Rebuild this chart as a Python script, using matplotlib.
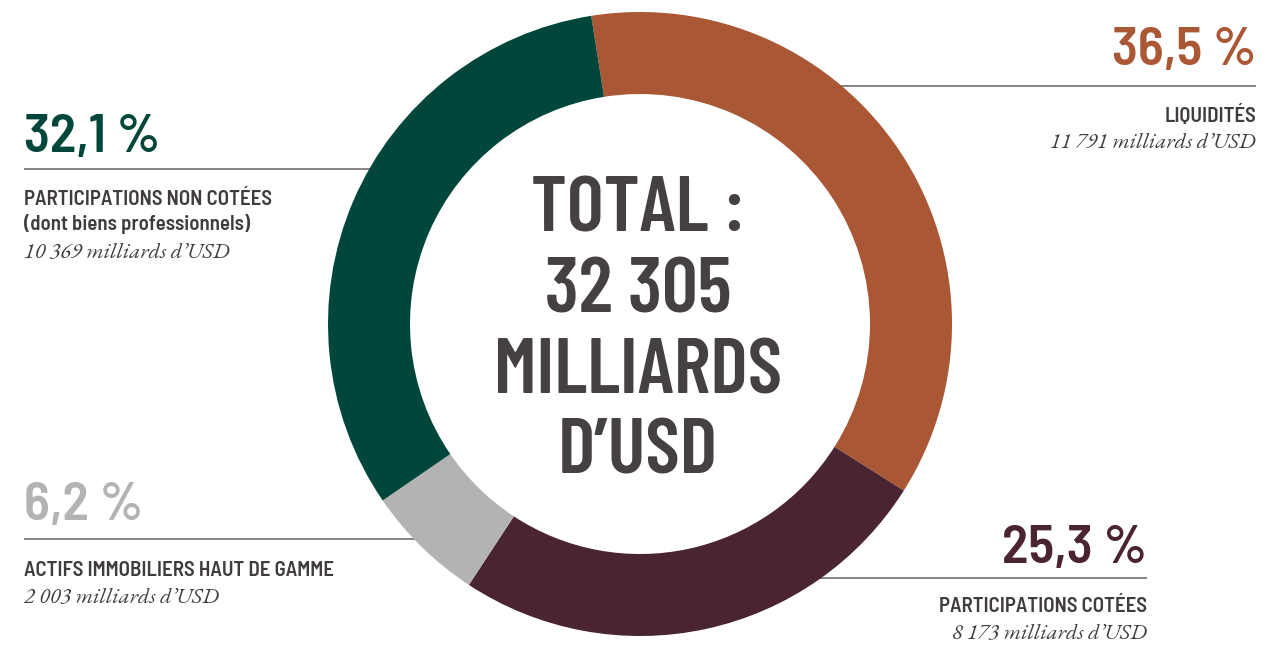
import matplotlib
matplotlib.use("Agg")
import matplotlib.pyplot as plt

# Répartition du patrimoine (parts en %, montants en milliards d'USD)
categories = ["LIQUIDITÉS", "PARTICIPATIONS COTÉES", "ACTIFS IMMOBILIERS HAUT DE GAMME",
              "PARTICIPATIONS NON COTÉES\n(dont biens professionnels)"]
shares = [36.5, 25.3, 6.2, 32.1]
amounts = [11791, 8173, 2003, 10369]
total = 32305
colors = ["#A95735", "#4A2432", "#B3B3B3", "#00463A"]

W, H = 1287, 645
SANS = ["Barlow Condensed", "Roboto Condensed", "Liberation Sans Narrow", "DejaVu Sans"]
SANS_SEMI = ["Barlow Semi Condensed", "Roboto Condensed", "Liberation Sans Narrow", "DejaVu Sans"]
SERIF = ["EB Garamond", "Liberation Serif", "DejaVu Serif"]
TEXT = "#403B3D"
RULE = "#707070"


def fr_pct(v):
    return f"{v:.1f}".replace(".", ",") + " %"


def fr_num(v):
    return f"{v:,}".replace(",", " ")


def top(y):
    # pixel rows counted from the top edge
    return H - y


fig = plt.figure(figsize=(W / 100, H / 100), dpi=100)
ax = fig.add_axes([0, 0, 1, 1])

cx, cy, r_out, ring = 640, top(324), 312, 82
ax.pie(shares, colors=colors, startangle=99, counterclock=False,
       radius=r_out, center=(cx, cy),
       wedgeprops=dict(width=ring, edgecolor="none", linewidth=0, antialiased=True))
ax.set_xlim(0, W)
ax.set_ylim(0, H)
ax.set_aspect("equal")
ax.axis("off")

# label blocks: (index, anchor x, align, pct baseline, rule y, name baseline, amount baseline)
blocks = [
    (0, 1256, "right", 65, 86, 122, 148),
    (1, 1147, "right", 563, 578, 612, 638),
    (2, 24, "left", 520, 539, 576, 602),
    (3, 24, "left", 152, 169, 205, 257),
]

for i, x, ha, y_pct, y_rule, y_name, y_amt in blocks:
    ax.text(x, top(y_pct), fr_pct(shares[i]), ha=ha, va="baseline",
            fontsize=39, family=SANS_SEMI, fontweight="semibold", color=colors[i])
    # rule runs from the text edge in under the ring
    dx = (r_out - ring / 2) ** 2 - (top(y_rule) - cy) ** 2
    x_ring = cx + (dx ** 0.5 if ha == "right" else -dx ** 0.5)
    ax.plot([x, x_ring], [top(y_rule)] * 2, color=RULE, lw=1.2, zorder=0,
            solid_capstyle="butt")
    for k, part in enumerate(categories[i].split("\n")):
        ax.text(x, top(y_name + 25 * k), part, ha=ha, va="baseline", fontsize=15,
                family=SANS_SEMI, fontweight="semibold", color=TEXT)
    ax.text(x, top(y_amt), f"{fr_num(amounts[i])} milliards d’USD", ha=ha,
            va="baseline", fontsize=16, family=SERIF, style="italic", color=TEXT)

# total in the hole
center_lines = ["TOTAL :", fr_num(total), "MILLIARDS", "D’USD"]
for k, line in enumerate(center_lines):
    ax.text(cx - 2, top(232 + 80.5 * k), line, ha="center", va="baseline",
            fontsize=57, family=SANS, fontweight="semibold", color="#454042")

fig.savefig("out.png", dpi=100, facecolor="white")
